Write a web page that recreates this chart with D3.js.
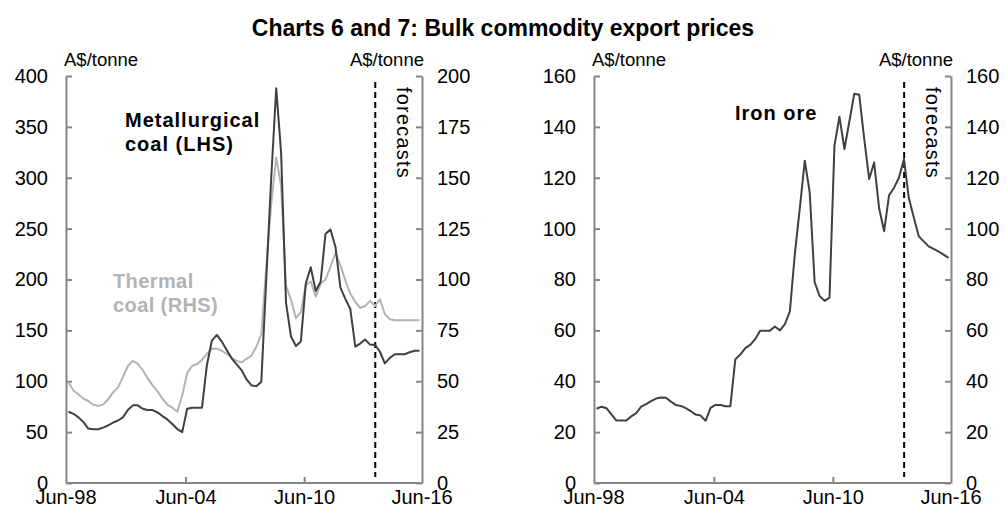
<!DOCTYPE html>
<html>
<head>
<meta charset="utf-8">
<script src="https://cdn.jsdelivr.net/npm/d3@7/dist/d3.min.js"></script>
<style>
body { margin: 0; background: #fff; }
text { font-family: "Liberation Sans", Arial, sans-serif; }
</style>
</head>
<body>
<script>
// quarterly observations, Jun-98 to Jun-16
var quarters = d3.timeMonth.every(3).range(new Date(1998, 5, 1), new Date(2016, 6, 1));
var forecastStart = new Date(2014, 0, 5);

var metCoal = [70, 68, 64.5, 60, 53.5, 52.8, 52.8, 54.4, 56.5, 59.4, 61.4, 64.5, 71.7, 76.3, 76.3, 73,
	71.7, 71.7, 69.4, 65.8, 62.5, 58, 53, 50, 73, 74, 74, 74, 116, 140, 145.5, 139,
	130.7, 122.5, 116.6, 111, 102, 96, 95, 99.6, 200, 300, 388, 325, 177, 144, 134.6, 139,
	196, 212, 188.7, 197.8, 245, 249, 232, 192, 181, 171, 134, 137, 141, 136, 135.6, 129,
	117.6, 123, 126.5, 126.5, 126.5, 128.5, 130, 130, 130];

var thermalCoal = [49.5, 45.5, 43.5, 41.5, 40.3, 38.5, 37.8, 38.5, 41, 44.5, 47, 52, 57.5, 60, 58.5, 55.5,
	51.5, 48, 45, 41.5, 38.5, 37, 35, 43, 54, 57.5, 58.5, 60.5, 63.5, 66, 66, 65,
	63.5, 61.5, 60, 59.3, 61, 62.5, 67, 73, 106, 137, 160, 146, 97, 90, 81, 84,
	97.3, 99, 91.5, 98, 100, 106.3, 113, 107, 99.5, 93, 89, 86, 87, 89.5, 87, 90.3,
	83, 80.5, 80, 80, 80, 80, 80, 80, 80];

var ironOre = [29.2, 30, 29.4, 27, 24.6, 24.6, 24.6, 26.2, 27.5, 30, 31, 32.2, 33.2, 33.6, 33.5, 32,
	30.7, 30.3, 29.4, 28.3, 26.9, 26.5, 24.5, 29.5, 30.7, 30.7, 30.2, 30.2, 48.6, 50.5, 53, 54.3,
	56.5, 59.9, 59.9, 59.9, 61.5, 60, 62.5, 67.5, 90, 108, 126.7, 114.3, 79, 73.5, 71.6, 72.9,
	132.6, 144, 131.3, 142, 153, 152.6, 135.2, 119.5, 126, 108, 99, 113, 116, 120, 127.4, 112,
	104.5, 97, 95, 93, 92, 91, 89.8, 88.5, 87];

var lhsTicks = [0, 50, 100, 150, 200, 250, 300, 350, 400];
var rhsTicks = [0, 25, 50, 75, 100, 125, 150, 175, 200];
var ironTicks = [0, 20, 40, 60, 80, 100, 120, 140, 160];
var dateTicks = [new Date(1998, 5, 1), new Date(2004, 5, 1), new Date(2010, 5, 1), new Date(2016, 5, 1)];

var plotTop = 76, plotBottom = 483;
var axisColor = '#858585';

var svg = d3.select('body').append('svg')
	.attr('width', 1007)
	.attr('height', 523);

svg.append('text')
	.attr('x', 503).attr('y', 36)
	.attr('text-anchor', 'middle')
	.style('font-size', '23px').style('font-weight', 'bold')
	.text('Charts 6 and 7: Bulk commodity export prices');

var styleAxis = function(g){
	g.selectAll('path, line').attr('stroke', axisColor).attr('stroke-width', 2);
	g.selectAll('text').style('font-size', '20px').attr('fill', '#000')
		.style('font-family', '"Liberation Sans", Arial, sans-serif');
}

var makeX = function(x0, x1){
	return d3.scaleTime()
		.domain([d3.timeDay.offset(quarters[0], -46), d3.timeDay.offset(quarters[quarters.length - 1], 46)])
		.range([x0, x1]);
}

var drawFrame = function(x, yL, yR, ticksL, ticksR, x0, x1){
	var gx = svg.append('g').attr('transform', 'translate(0,' + plotBottom + ')')
		.call(d3.axisBottom(x).tickValues(dateTicks).tickSize(-6).tickSizeOuter(0).tickPadding(7)
			.tickFormat(d3.timeFormat('%b-%y')));
	gx.select('.domain').attr('d', 'M' + x0 + ',0H' + x1);
	gx.selectAll('.tick').filter(function(d, i){return i == 0 || i == dateTicks.length - 1;})
		.select('line').remove();
	gx.selectAll('.tick').filter(function(d, i){return i == 0;}).attr('transform', 'translate(' + x0 + ',0)');
	gx.selectAll('.tick').filter(function(d, i){return i == dateTicks.length - 1;}).attr('transform', 'translate(' + x1 + ',0)');
	styleAxis(gx);

	var gl = svg.append('g').attr('transform', 'translate(' + x0 + ',0)')
		.call(d3.axisLeft(yL).tickValues(ticksL).tickSize(-6).tickSizeOuter(0).tickPadding(18));
	styleAxis(gl);

	var gr = svg.append('g').attr('transform', 'translate(' + x1 + ',0)')
		.call(d3.axisRight(yR).tickValues(ticksR).tickSize(-6).tickSizeOuter(0).tickPadding(15));
	styleAxis(gr);

	svg.append('text').attr('x', x0 - 2).attr('y', 66)
		.style('font-size', '18.5px').text('A$/tonne');
	svg.append('text').attr('x', x1 + 2).attr('y', 66).attr('text-anchor', 'end')
		.style('font-size', '18.5px').text('A$/tonne');

	var fx = x(forecastStart);
	svg.append('line')
		.attr('x1', fx).attr('x2', fx)
		.attr('y1', plotTop + 6).attr('y2', plotBottom - 6)
		.attr('stroke', '#000').attr('stroke-width', 2)
		.attr('stroke-dasharray', '6,4');
	svg.append('text')
		.attr('transform', 'translate(' + (fx + 22) + ',' + (plotTop + 11) + ') rotate(90)')
		.style('font-size', '20px').style('letter-spacing', '1.2px')
		.text('forecasts');
}

var drawLine = function(x, y, values, color){
	var line = d3.line()
		.x(function(d, i){return x(quarters[i]);})
		.y(function(d){return y(d);});
	svg.append('path')
		.datum(values)
		.attr('d', line)
		.attr('fill', 'none')
		.attr('stroke', color)
		.attr('stroke-width', 2)
		.attr('stroke-linejoin', 'round');
}

var label = function(x, y, lines, color, spacing){
	lines.forEach(function(t, i){
		svg.append('text')
			.attr('x', x).attr('y', y + i * 24)
			.attr('fill', color)
			.style('font-size', '20px').style('font-weight', 'bold')
			.style('letter-spacing', spacing)
			.text(t);
	});
}

// chart 6: coal
var xL = makeX(66, 422);
var yMet = d3.scaleLinear().domain([0, 400]).range([plotBottom, plotTop]);
var yThermal = d3.scaleLinear().domain([0, 200]).range([plotBottom, plotTop]);
drawFrame(xL, yMet, yThermal, lhsTicks, rhsTicks, 66, 422);
drawLine(xL, yThermal, thermalCoal, '#b3b3b3');
drawLine(xL, yMet, metCoal, '#404040');
label(125, 127, ['Metallurgical', 'coal (LHS)'], '#000', '1px');
label(113, 288, ['Thermal', 'coal (RHS)'], '#b3b3b3', '0.4px');

// chart 7: iron ore
var xR = makeX(594, 951);
var yIron = d3.scaleLinear().domain([0, 160]).range([plotBottom, plotTop]);
drawFrame(xR, yIron, yIron, ironTicks, ironTicks, 594, 951);
drawLine(xR, yIron, ironOre, '#404040');
label(735, 120, ['Iron ore'], '#000', '1px');
</script>
</body>
</html>
